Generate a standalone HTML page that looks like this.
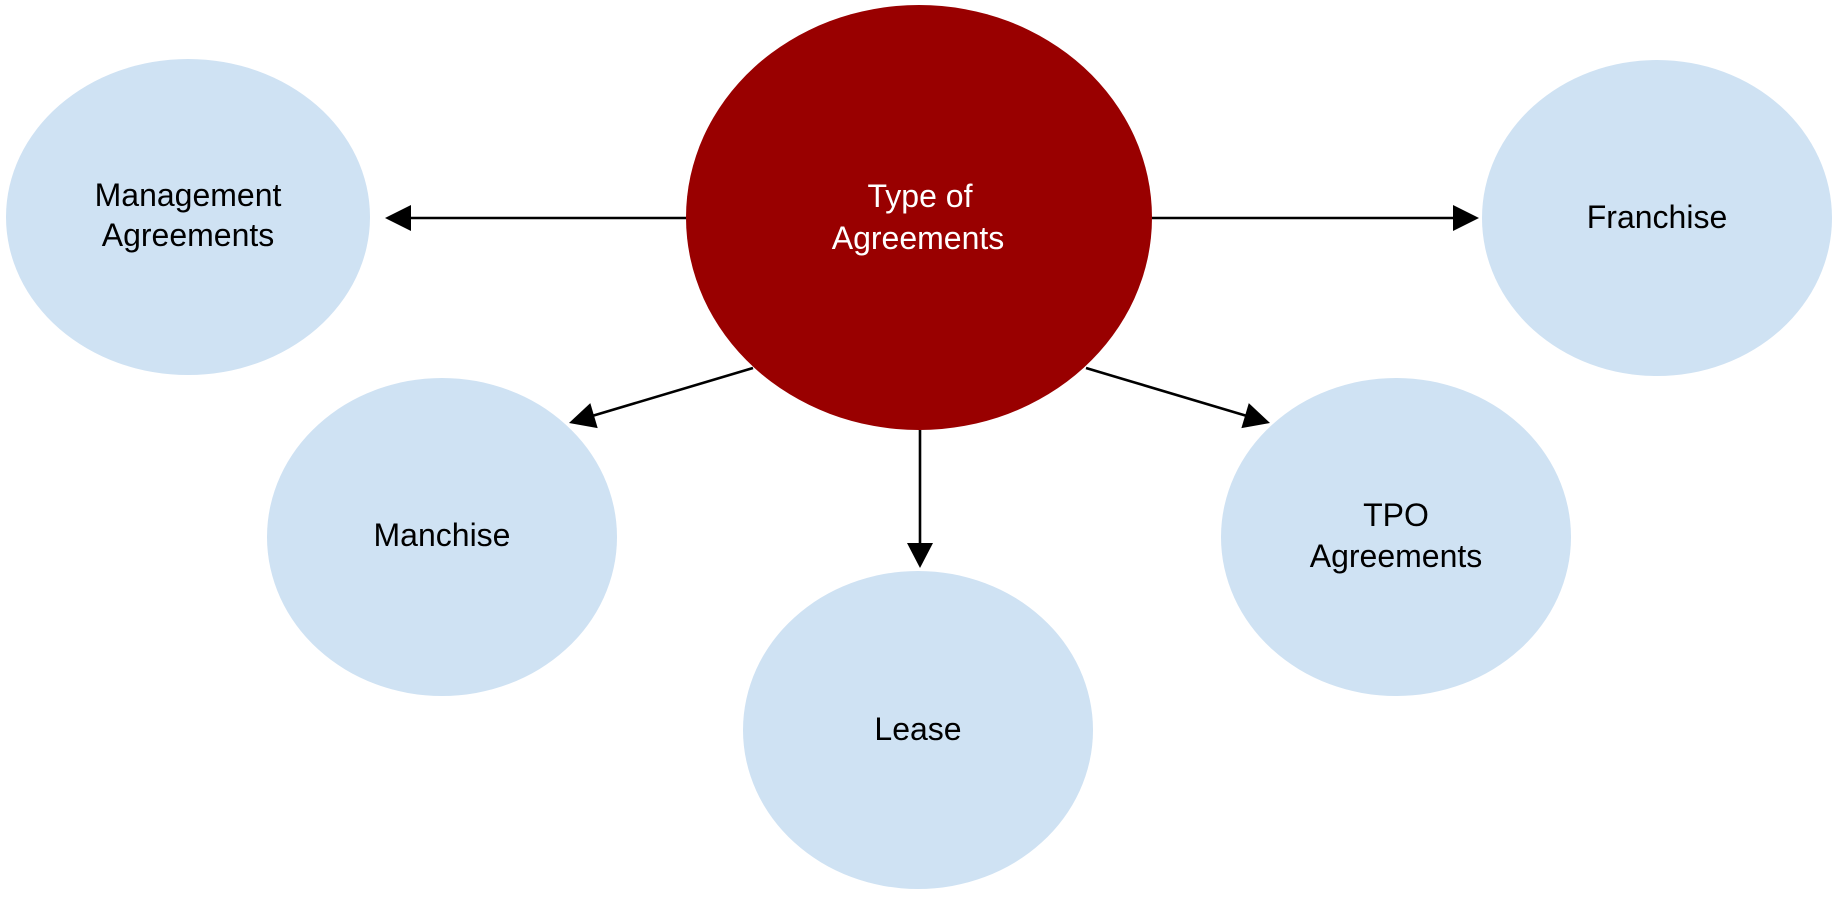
<!DOCTYPE html>
<html>
<head>
<meta charset="utf-8">
<style>
  html, body { margin: 0; padding: 0; background: #ffffff; }
  body { width: 1842px; height: 898px; overflow: hidden; }
  svg { display: block; }
  text { font-family: "Liberation Sans", Arial, sans-serif; font-size: 32px; }
</style>
</head>
<body>
<svg width="1842" height="898" viewBox="0 0 1842 898" xmlns="http://www.w3.org/2000/svg">
  <rect x="0" y="0" width="1842" height="898" fill="#ffffff"/>

  <!-- Outer nodes -->
  <ellipse cx="188" cy="217" rx="182" ry="158" fill="#cfe2f3"/>
  <ellipse cx="1657" cy="218" rx="175" ry="158" fill="#cfe2f3"/>
  <ellipse cx="442" cy="537" rx="175" ry="159" fill="#cfe2f3"/>
  <ellipse cx="918" cy="730" rx="175" ry="159" fill="#cfe2f3"/>
  <ellipse cx="1396" cy="537" rx="175" ry="159" fill="#cfe2f3"/>

  <!-- Central node -->
  <ellipse cx="919" cy="217.5" rx="233" ry="212.5" fill="#990000"/>

  <!-- Connectors -->
  <g stroke="#000" stroke-width="2.6" fill="none">
    <line x1="686" y1="218" x2="409" y2="218"/>
    <line x1="1152" y1="218" x2="1455" y2="218"/>
    <line x1="920" y1="430" x2="920" y2="545"/>
    <line x1="753" y1="368" x2="592" y2="416"/>
    <line x1="1086" y1="368" x2="1247" y2="416"/>
  </g>
  <g fill="#000">
    <polygon points="385,218 411,205 411,231"/>
    <polygon points="1479,218 1453,205 1453,231"/>
    <polygon points="920,568 907,543 933,543"/>
    <polygon points="569,423 597.7,428.1 590.3,403.1"/>
    <polygon points="1270,423 1241.4,428.1 1248.8,403.1"/>
  </g>

  <!-- Labels -->
  <g text-anchor="middle" fill="#000">
    <text x="188" y="206">Management</text>
    <text x="188" y="246">Agreements</text>
    <text x="1657" y="228">Franchise</text>
    <text x="442" y="546">Manchise</text>
    <text x="918" y="740">Lease</text>
    <text x="1396" y="526">TPO</text>
    <text x="1396" y="567">Agreements</text>
  </g>
  <g text-anchor="middle" fill="#ffffff">
    <text x="920" y="207">Type of</text>
    <text x="918" y="249">Agreements</text>
  </g>
</svg>
</body>
</html>
